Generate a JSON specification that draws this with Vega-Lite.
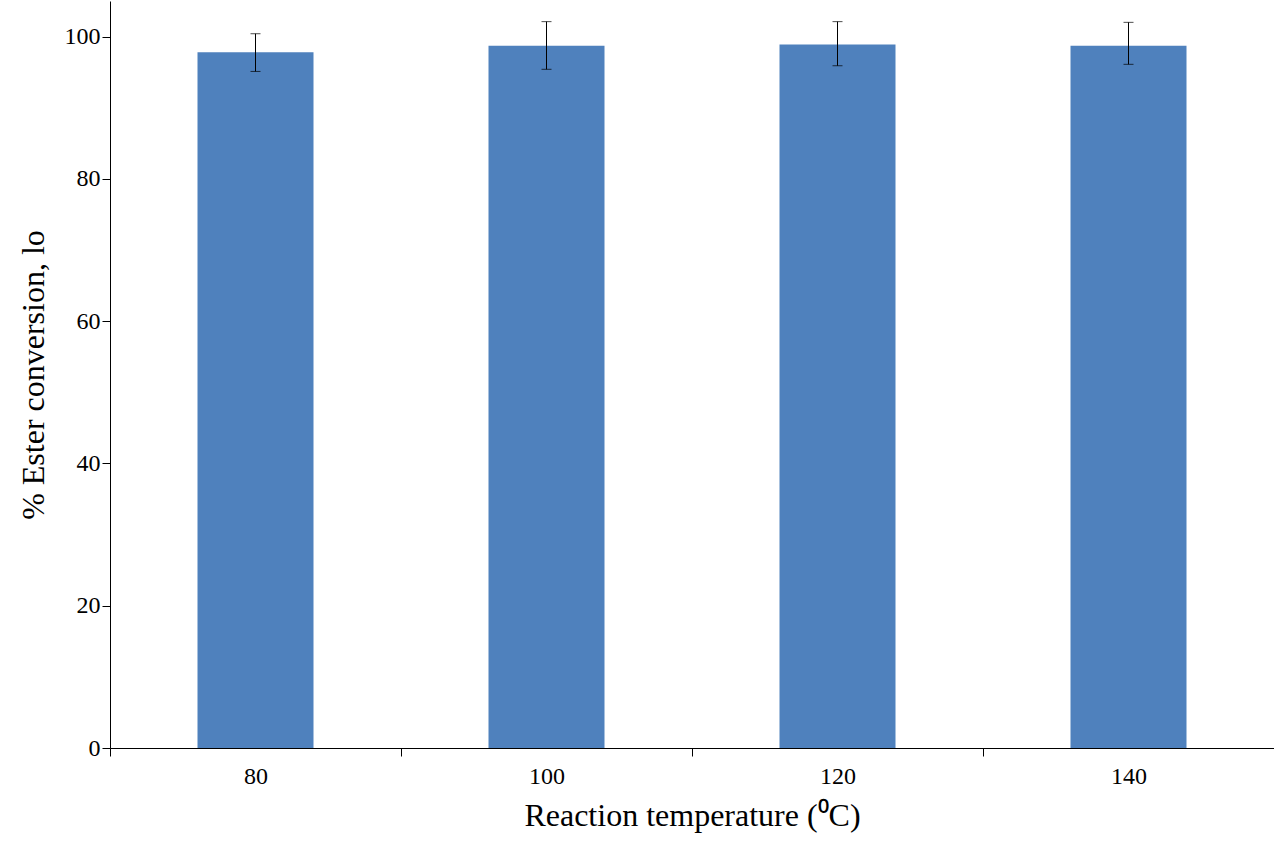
{
  "$schema": "https://vega.github.io/schema/vega-lite/v6.json",
  "width": 1164,
  "height": 747,
  "autosize": "none",
  "padding": {"left": 110, "top": 1, "right": 0, "bottom": 94},
  "background": "white",
  "data": {
    "values": [
      {"temp": "80", "conv": 97.8, "lo": 95.1, "hi": 100.4},
      {"temp": "100", "conv": 98.7, "lo": 95.4, "hi": 102.1},
      {"temp": "120", "conv": 98.9, "lo": 95.9, "hi": 102.1},
      {"temp": "140", "conv": 98.7, "lo": 96.1, "hi": 102.0}
    ]
  },
  "encoding": {
    "x": {
      "field": "temp",
      "type": "nominal",
      "sort": null,
      "scale": {"paddingInner": 0, "paddingOuter": 0},
      "axis": {
        "title": "Reaction temperature (⁰C)",
        "labelAngle": 0,
        "tickBand": "extent",
        "labelPadding": 8,
        "titlePadding": 12
      }
    }
  },
  "layer": [
    {
      "mark": {"type": "bar", "size": 116, "color": "#4f81bd"},
      "encoding": {
        "y": {
          "field": "conv",
          "type": "quantitative",
          "scale": {"domain": [0, 105], "nice": false},
          "axis": {
            "title": "% Ester conversion",
            "values": [0, 20, 40, 60, 80, 100],
            "grid": false,
            "titlePadding": 14
          }
        }
      }
    },
    {
      "mark": {"type": "errorbar", "ticks": {"size": 10, "color": "black"}, "rule": {"color": "black"}},
      "encoding": {
        "y": {"field": "lo", "type": "quantitative"},
        "y2": {"field": "hi"}
      }
    }
  ],
  "config": {
    "view": {"stroke": null},
    "font": "Liberation Serif",
    "axis": {
      "domainColor": "black",
      "tickColor": "black",
      "labelColor": "black",
      "titleColor": "black",
      "labelFont": "Liberation Serif",
      "titleFont": "Liberation Serif",
      "labelFontSize": 24,
      "titleFontSize": 32,
      "titleFontWeight": "normal",
      "tickSize": 8
    }
  }
}
